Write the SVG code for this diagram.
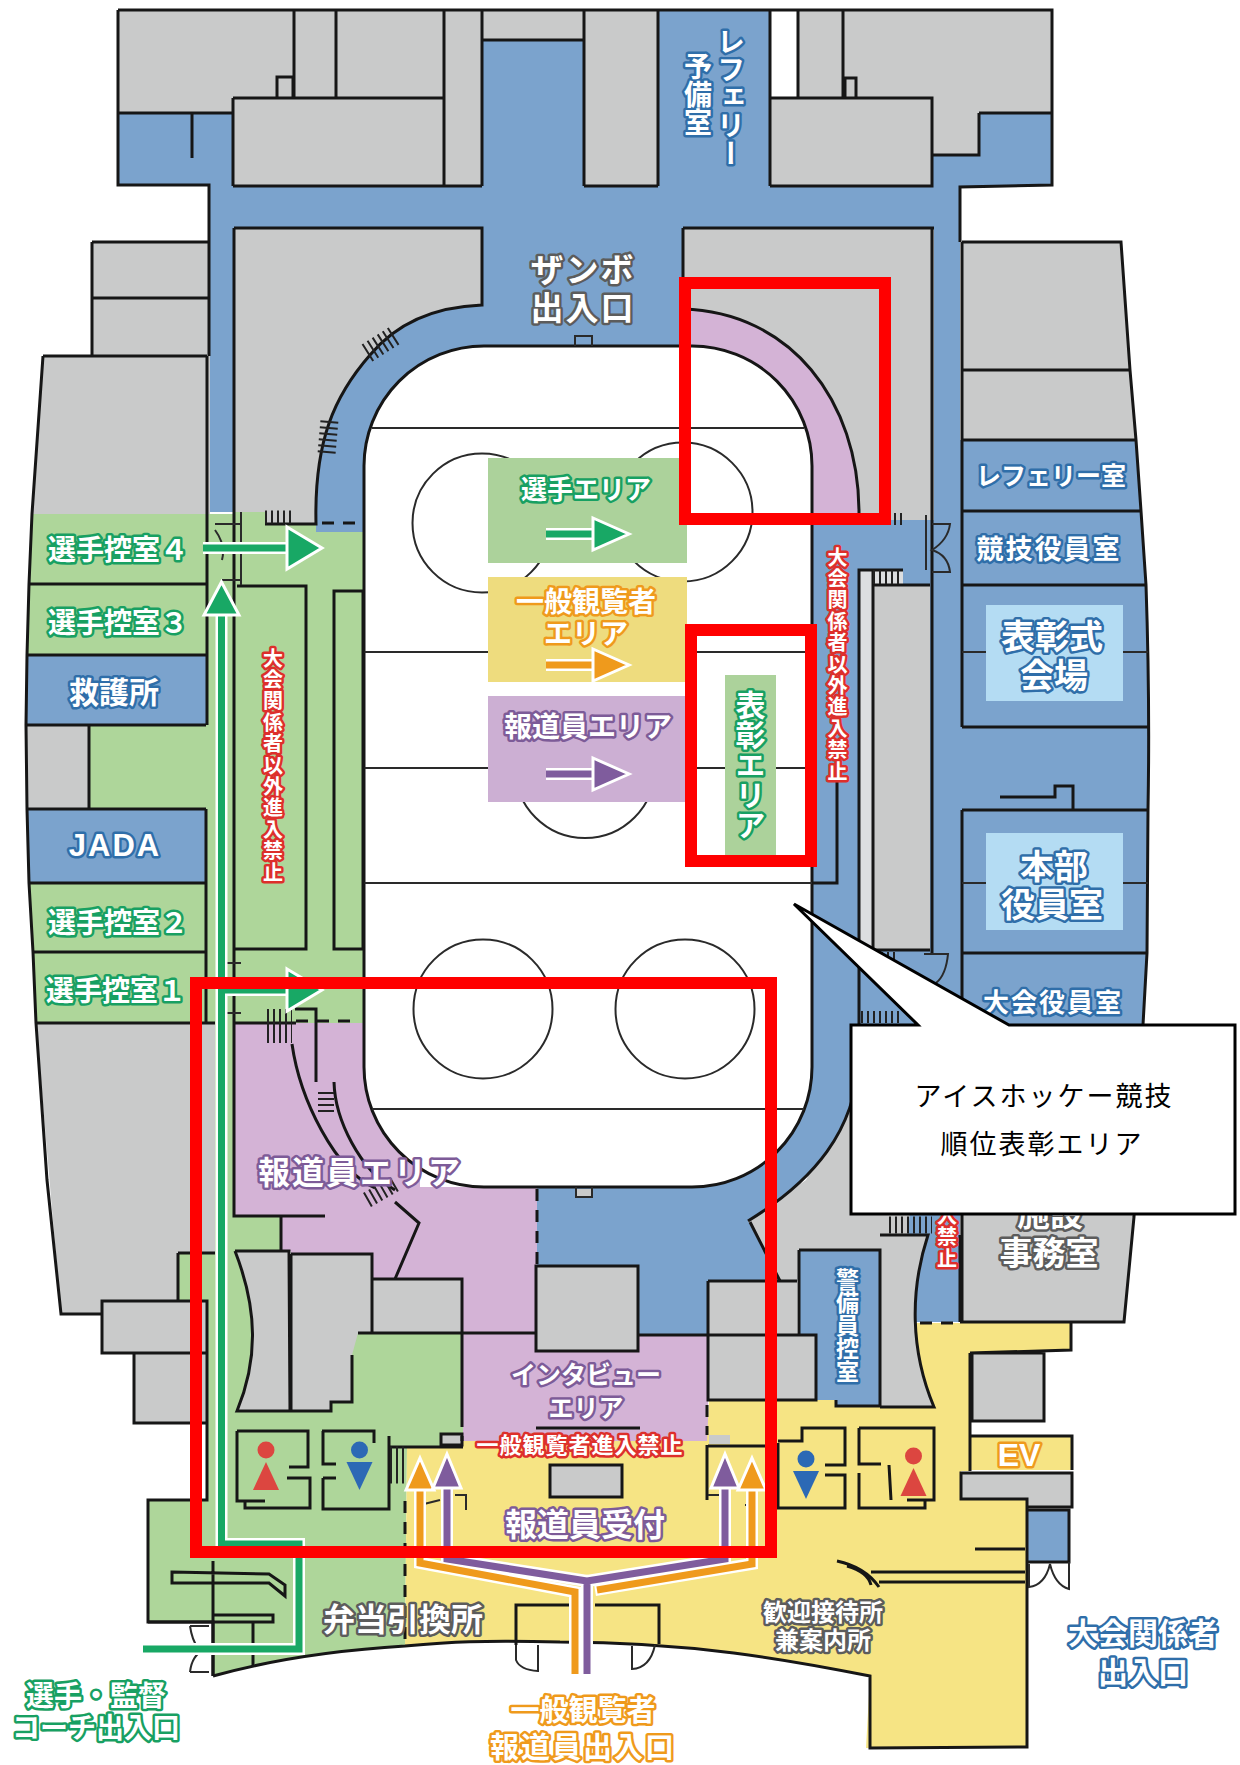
<svg xmlns="http://www.w3.org/2000/svg" width="1240" height="1765" viewBox="0 0 1240 1765">
<style>
.gy{fill:#c9caca}.bl{fill:#7ba3cd}.gn{fill:#aed69a}.pu{fill:#d4b3d6}.ye{fill:#f6e484}.lb{fill:#b4dcf3}
.w{fill:none;stroke:#161616;stroke-width:3;stroke-linejoin:miter}
.t{fill:none;stroke:#2a2a2a;stroke-width:2}
.d{fill:none;stroke:#161616;stroke-width:3;stroke-dasharray:12 9}
.s{fill:none;stroke:#222;stroke-dasharray:2 4}
.l{fill:#fff;font-family:"Noto Sans CJK JP","Noto Sans",sans-serif;font-weight:700;text-anchor:middle;dominant-baseline:central;paint-order:stroke;stroke-width:5;stroke-linejoin:round}
.v{writing-mode:vertical-rl;text-anchor:start;dominant-baseline:central}
.cg{stroke:#18a062}.cb{stroke:#2f6ea9}.cd{stroke:#5c5c5c}.cp{stroke:#7d5b98}.co{stroke:#ef9a1c}.cr{stroke:#dd2f2b}
.red{fill:none;stroke:#ff0000;stroke-width:12}
.cap{fill:#000;font-family:"Noto Sans CJK JP","Noto Sans",sans-serif;font-size:27px;text-anchor:middle;dominant-baseline:central;letter-spacing:2px}
</style>
<defs>
<g id="fem"><circle cx="0" cy="-27" r="8.5" fill="#dc4640"/><path d="M0,-15 L13,13 H-13Z" fill="#dc4640"/></g>
<g id="mal"><circle cx="0" cy="-27" r="8.5" fill="#2c69b5"/><path d="M-13,-15 H13 L0,13Z" fill="#2c69b5"/></g>
</defs>
<rect width="1240" height="1765" fill="#fff"/>

<g id="fills">
<path class="gy" d="M118,10H482V186H233V113H118Z"/>
<path class="gy" d="M482,10H584V40H482Z"/>
<path class="gy" d="M584,10H658V186H584Z"/>
<path class="gy" d="M770,98H798V10H1052V113H979V155H932V186H770Z"/>
<path class="bl" d="M118,113H233V186H482V40H584V186H932V155H979V113H1052V185L960,187V1026H812V512H210V185H118Z"/>
<path class="bl" d="M658,10H770V186H658Z"/>
<path class="gy" d="M92,242H209V356H92Z"/>
<path class="gy" d="M43,356H210V514H32Z"/>
<path class="gy" d="M234,228H482V305C430,307 395,325 370,355C335,395 314,440 316,524H234Z"/>
<path class="gy" d="M683,228H934V520H859C859,400 790,312 683,309Z"/>
<path class="pu" d="M683,309C790,312 859,400 859,520H683Z"/>
<path class="gy" d="M962,242H1121L1130,370L1136,440H962Z"/>
<path class="bl" d="M960,440H1136L1141,511L1146,585Q1150,700 1148,810L1147,953L1143,1025L1139,1110H960Z"/>
<path class="gn" d="M32,514H234V1023H36L33,952L29,883L27,809L26,725L27,655L29,584Z"/>
<path class="bl" d="M27,655H206V725H26Z"/>
<path class="gy" d="M27,725H89V809H27Z"/>
<path class="bl" d="M27,809H206V883H29Z"/>
<path class="gn" d="M234,512H265V524H316V532H364V1023H234Z"/>
<path class="bl" d="M316,500H364V532H316Z"/>
<path class="gy" d="M36,1023H215V1253H178V1301H102V1314H61Z"/>
<path class="gn" d="M215,1023H234V1216H281V1333H463V1447H407L405,1646C340,1650 270,1660 213,1676V1622H148V1500H207V1301H178V1253H215Z"/>
<path class="pu" d="M234,1023H420V1187H537V1351H638V1335H708V1441H463V1333H462V1279H372V1254H291V1251H281V1216H234Z"/>
<path class="gy" d="M850,1100H960V1235H880V1250H799V1281H780L748,1221L806,1180Z"/>
<path class="bl" d="M700,1000H859V1060C855,1130 815,1180 748,1221L780,1281H708V1335H537V1100H700Z"/>
<path class="bl" d="M920,1100H960V1322H900Z"/>
<path class="gy" d="M960,1100H1139L1134,1217L1124,1322H960Z"/>
<path class="bl" d="M799,1250H880V1406H836V1400H799Z"/>
<path class="ye" d="M709,1400H836V1407H934C915,1380 912,1350 916,1323H1071V1350L970,1353V1471H961V1499H1027V1747L866,1748L870,1676C790,1660 690,1642 560,1642C480,1640 450,1642 405,1646L407,1447H463V1441H707Z"/>
<path class="gy" d="M880,1235H928C910,1290 910,1350 934,1407H880Z"/>
<path class="gy" d="M536,1266H638V1351H536Z"/>
<path class="gy" d="M708,1281H797V1335H708Z"/>
<path class="gy" d="M708,1335H816V1400H708Z"/>
<path class="gy" d="M235,1251H289L290,1410H237C255,1360 258,1310 235,1251Z"/>
<path class="gy" d="M291,1254H372V1333H358L352,1355V1402H331V1411H290Z"/>
<path class="gy" d="M372,1279H462V1333H372Z"/>
<path class="gy" d="M102,1301H207V1353H102Z"/>
<path class="gy" d="M134,1353H207V1423H134Z"/>
<path class="gy" d="M972,1353H1044V1421H972Z"/>
<path class="ye" d="M970,1436H1072V1470H970Z"/>
<path class="gy" d="M961,1473H1072V1507H1027V1499H961Z"/>
<path class="bl" d="M1027,1510H1069V1562H1027Z"/>
<path class="gy" d="M550,1465H622V1497H550Z"/>
<path class="gy" d="M441,1434H462V1445H441Z"/>
<path class="gy" d="M709,1435H730V1444H709Z"/>
<path fill="#dcdee0" d="M860,570H903V585H873V950H860Z"/>
<path class="gy" d="M873,585H930V950H873Z"/>
<path class="bl" d="M575,336H592V346H575Z"/>
<path class="gy" d="M576,1189H592V1197H576Z"/>
</g>

<g id="rink">
<rect x="364" y="346" width="448" height="841" rx="120" ry="120" fill="#fff" stroke="#161616" stroke-width="3"/>
<g class="t">
<path d="M372,428H804M364,652H812M364,768H812M364,883H812M372,1109H804"/>
<circle cx="482" cy="523" r="69.5"/><circle cx="683" cy="512" r="69.5"/><circle cx="585" cy="768" r="70"/>
<circle cx="483" cy="1009" r="69.5"/><circle cx="685" cy="1009" r="69.5"/>
</g>
<path class="t" d="M575,346V336H592V346M576,1187V1197H592V1187"/>
</g>

<g id="walls">
<path class="w" d="M118,10H1052V185L960,187V242M118,10V185H209V242M92,242H209V356M92,242V356M92,298H209M43,356H207M43,356L32,514M207,356V725M206,809V1023"/>
<path class="w" d="M979,113H1052M979,113V155H932M118,113H233M192,113V158M233,98V186M233,98H444M277,98V77H293V98M294,10V98M336,10V98M444,10V186M482,10V186M233,186H482M482,40H584M584,10V186M658,10V186M770,10V186M798,10V98M843,10V98M845,98V78H856V98M770,98H932V186H770M658,186H584M932,228V954"/>
<path class="w" d="M234,228H482V305C430,307 395,325 370,355C335,395 314,440 316,524H265M234,228V1216H325M683,228H934M683,228V290"/>
<path class="w" d="M683,309C790,312 859,400 859,513"/>
<path class="w" d="M962,242H1121L1130,370L1136,440L1141,511L1146,585Q1150,700 1148,810L1147,953L1143,1025L1134,1217L1124,1322H960M962,242V727M962,810V1322M962,370H1130M962,440H1136M962,511H1141M962,585H1146M962,727H1148M962,810H1148M962,953H1147"/>
<path class="w" d="M1000,797H1055V786H1073V810"/>
<path class="t" d="M962,652H986M1123,652H1148M962,883H986M1123,883H1148"/>
<path class="w" d="M32,514L29,584L27,655L26,725L27,809L29,883L33,952L36,1023L47,1180L61,1314H102M29,584H206M27,655H206M26,725H206M89,725V809M27,809H206M29,883H206M33,952H206M36,1023H215M234,1023H296"/>
<path class="w" d="M237,586H306V949H234M334,591V949H363V591Z"/>
<path class="d" d="M322,523H360M296,1021H356"/>
<path class="w" d="M295,1009H316V1082M292,1044C300,1100 335,1170 375,1188M334,1082C335,1120 360,1170 395,1190"/>
<path class="w" d="M395,1202L419,1223L395,1279M281,1216V1250"/>
<path class="w" d="M235,1251H289L290,1411H237C258,1360 258,1310 235,1251M291,1254H372V1333M358,1333H536M352,1355V1402H331V1411H290M291,1254V1410M372,1279H462V1333M462,1333V1415"/>
<path class="d" d="M537,1189V1266M462,1415V1441M405,1501V1646M707,1405V1435M920,1323H958"/>
<path class="w" d="M536,1266H638V1351H536ZM638,1335H708V1400H816V1335H708M708,1281H797M708,1281V1335M799,1250V1335M799,1250H880V1406H836V1400M880,1235H928C910,1290 910,1350 934,1407H880M960,1235V1322"/>
<path class="w" d="M750,1222L780,1281M748,1221C815,1180 855,1130 859,1060V570H903M873,570V950H930M873,585H930M837,780V883H812"/>
<path class="w" d="M178,1253H215M178,1253V1301M102,1301H207V1353H102ZM134,1353H207V1423H134ZM207,1301V1500H148V1622H213V1676"/>
<path class="w" d="M172,1572L269,1574L285,1585V1596L269,1583H172ZM213,1561V1676M213,1615H273V1622H148M253,1622V1667"/>
<path class="w" d="M213,1676C270,1660 340,1650 405,1646C450,1642 480,1640 560,1642C690,1642 790,1660 870,1676V1748L1027,1747V1499H961V1473H1072V1507H1027M970,1353V1471M970,1436H1072V1470M972,1353H1044V1421H972ZM970,1353L1071,1350V1323"/>
<path class="w" d="M1027,1510H1069V1562H1027M975,1549H1025M871,1572H1025M879,1582H1025M837,1561Q865,1567 879,1587M847,1566Q868,1572 871,1585"/>
<path class="t" d="M1029,1564V1587Q1045,1585 1050,1564Q1055,1585 1069,1589V1562M932,524H950Q948,540 932,550Q948,555 950,572H932M926,515V570M924,954H948Q946,975 936,983M215,524H241M241,512V585M215,530Q226,545 222,560M222,580H241M227,963H241M227,1013H241M190,1626Q192,1640 198,1648M190,1672Q192,1655 204,1650M190,1672H209M190,1626H209M516,1645V1660Q520,1670 538,1671V1645M632,1646V1669Q650,1668 655,1645"/>
<path class="w" d="M516,1645V1605H569M595,1605H659V1644"/>
<path class="w" d="M237,1431H308V1467H289M287,1478H310V1508H245V1500M237,1431V1501H265"/>
<path class="w" d="M322,1431H374V1443M323,1431V1464H336M323,1478H336M323,1478V1509H389V1436M389,1447H463M441,1434H462V1445H441Z"/>
<path class="w" d="M707,1445V1500M708,1446H778M778,1443V1508H845V1475H825M825,1465H845V1428H802V1441H778"/>
<path class="w" d="M859,1428H934V1500H907M859,1428V1464H881M859,1473V1508H925V1501M889,1465L891,1500"/>
<rect class="w" x="550" y="1465" width="72" height="32"/>
<path class="w" d="M536,1428H640"/>
<path class="t" d="M420,1505L440,1500M455,1495H466V1510M708,1495H725M745,1505H757"/>
</g>

<g id="stairs">
<path class="s" stroke-width="20" d="M367,353L397,334"/>
<path class="s" stroke-width="18" transform="translate(328 437) rotate(-85)" d="M-16,0H16"/>
<path class="s" stroke-width="13" d="M265,517H295"/>
<path class="s" stroke-width="12" d="M870,519H903"/>
<path class="s" stroke-width="14" d="M873,577H903"/>
<path class="s" stroke-width="10" d="M881,957H897"/>
<path class="s" stroke-width="12" d="M861,1017H903"/>
<path class="s" stroke-width="17" d="M889,1225H932"/>
<path class="s" stroke-width="34" d="M267,1026H292"/>
<path class="s" stroke-width="16" d="M326,1092V1115"/>
<path class="s" stroke-width="16" d="M367,1200L395,1184"/>
<path class="s" stroke-width="37" d="M390,1465H407"/>
<path class="s" stroke-width="12" d="M766,1470H778"/>
</g>

<g id="legend">
<rect x="488" y="458" width="199" height="105" fill="#acd29b"/>
<rect x="488" y="577" width="199" height="105" fill="#eedc7e"/>
<rect x="488" y="696" width="199" height="106" fill="#ccafd3"/>
<rect x="725" y="675" width="51" height="182" fill="#acd29b"/>
</g>

<g id="connectors">
<g fill="none" stroke="#fff" stroke-width="12" stroke-linejoin="miter">
<path d="M143,1649H299V1544H221.5V600"/>
<path d="M203,548H290M222,990H290"/>
<path d="M546,534H595M546,665H595M546,774H595"/>
<path d="M420,1490V1563L575,1592V1674M752,1490V1564L595,1590"/>
<path d="M447,1488V1559L587,1581V1674M725,1488V1559L587,1581"/>
</g>
<g fill="none" stroke="#18a865" stroke-width="7">
<path d="M143,1649H299V1544H221.5V600"/>
<path d="M203,548H290M222,990H290M546,534H595"/>
</g>
<g fill="none" stroke="#ef9a1c" stroke-width="7"><path d="M546,665H595M420,1490V1563L575,1592V1674M752,1490V1564L597,1590"/></g>
<g fill="none" stroke="#7f5c9d" stroke-width="7"><path d="M546,774H595M447,1488V1559L587,1581V1674M725,1488V1559L587,1581"/></g>
<g stroke="#fff" stroke-width="3" stroke-linejoin="miter">
<path fill="#18a865" d="M287,527L322,548L287,569Z"/>
<path fill="#18a865" d="M287,969L322,990L287,1011Z"/>
<path fill="#18a865" d="M221.5,582L239,615H204Z"/>
<path fill="#18a865" d="M593,518L629,534L593,550Z"/>
<path fill="#ef9a1c" d="M593,649L629,665L593,681Z"/>
<path fill="#7f5c9d" d="M593,758L629,774L593,790Z"/>
<path fill="#ef9a1c" d="M420,1458L434,1490H406Z"/>
<path fill="#7f5c9d" d="M447,1454L461,1488H433Z"/>
<path fill="#7f5c9d" d="M725,1454L739,1488H711Z"/>
<path fill="#ef9a1c" d="M752,1458L766,1490H738Z"/>
</g>
</g>

<g id="icons">
<use href="#fem" x="266" y="1477"/><use href="#mal" x="359.5" y="1477"/>
<use href="#mal" x="806" y="1486"/><use href="#fem" x="913.5" y="1483"/>
</g>

<g id="labels">
<text class="l cb v" x="731" y="27" font-size="28">レフェリー</text>
<text class="l cb v" x="698" y="52" font-size="28">予備室</text>
<text class="l cd" x="583" y="268" font-size="33" letter-spacing="2">ザンボ</text>
<text class="l cd" x="583" y="306" font-size="33" letter-spacing="2">出入口</text>
<text class="l cb" x="1051" y="474" font-size="25">レフェリー室</text>
<text class="l cb" x="1049" y="547" font-size="27" letter-spacing="2">競技役員室</text>
<rect class="lb" x="986" y="605" width="137" height="96"/>
<rect class="lb" x="986" y="833" width="137" height="97"/>
<text class="l cb" x="1052" y="634" font-size="34">表彰式</text>
<text class="l cb" x="1054" y="673" font-size="34">会場</text>
<text class="l cb" x="1054" y="864" font-size="34">本部</text>
<text class="l cb" x="1052" y="902" font-size="34">役員室</text>
<text class="l cb" x="1053" y="1000" font-size="26" letter-spacing="2">大会役員室</text>
<text class="l cg" x="118" y="548" font-size="28">選手控室４</text>
<text class="l cg" x="118" y="621" font-size="28">選手控室３</text>
<text class="l cb" x="114" y="690" font-size="30">救護所</text>
<text class="l cb" x="115" y="845" font-size="31" letter-spacing="2" style="font-family:'Liberation Sans',sans-serif">JADA</text>
<text class="l cg" x="118" y="921" font-size="28">選手控室２</text>
<text class="l cg" x="116" y="989" font-size="28">選手控室１</text>
<text class="l cr v" x="273" y="648" font-size="20" letter-spacing="1.4">大会関係者以外進入禁止</text>
<text class="l cr v" x="837.5" y="547" font-size="20" letter-spacing="1.4">大会関係者以外進入禁止</text>
<text class="l cr v" x="947" y="1034" font-size="20" letter-spacing="1.4">大会関係者以外進入禁止</text>
<text class="l cg" x="586" y="487" font-size="26">選手エリア</text>
<text class="l co" x="586" y="600" font-size="28">一般観覧者</text>
<text class="l co" x="586" y="632" font-size="28">エリア</text>
<text class="l cp" x="588" y="725" font-size="28">報道員エリア</text>
<text class="l cg v" x="750.5" y="690" font-size="30">表彰エリア</text>
<text class="l cp" x="360" y="1170" font-size="32" letter-spacing="2">報道員エリア</text>
<text class="l cp" x="586" y="1373" font-size="25">インタビュー</text>
<text class="l cp" x="586" y="1406" font-size="25">エリア</text>
<text class="l cr" x="580" y="1443" font-size="22" letter-spacing="1">一般観覧者進入禁止</text>
<text class="l cp" x="585" y="1522" font-size="32">報道員受付</text>
<text class="l cd" x="403" y="1617" font-size="32">弁当引換所</text>
<text class="l cd" x="823" y="1610" font-size="24">歓迎接待所</text>
<text class="l cd" x="823" y="1638" font-size="24">兼案内所</text>
<text class="l cb" x="1143" y="1631" font-size="30">大会関係者</text>
<text class="l cb" x="1143" y="1670" font-size="30">出入口</text>
<text class="l cg" x="96" y="1694" font-size="28">選手・監督</text>
<text class="l cg" x="96" y="1726" font-size="28">コーチ出入口</text>
<text class="l co" x="583" y="1708" font-size="29">一般観覧者</text>
<text class="l co" x="583" y="1745" font-size="29" letter-spacing="2">報道員出入口</text>
<text class="l co" x="1019" y="1455" font-size="32" style="font-family:'Liberation Sans',sans-serif">EV</text>
<text class="l cd" x="1050" y="1212" font-size="33">施設</text>
<text class="l cd" x="1049" y="1251" font-size="33">事務室</text>
<text class="l cb v" x="847.5" y="1268" font-size="23">警備員控室</text>
</g>

<g id="highlights">
<rect class="red" x="685" y="283" width="200" height="236"/>
<rect class="red" x="691" y="630" width="120" height="231"/>
<rect class="red" x="196" y="983" width="575" height="569"/>
</g>

<g id="callout">
<path d="M851,1025H918L794,904L1009,1025H1235V1214H851Z" fill="#fff" stroke="#000" stroke-width="3" stroke-linejoin="miter"/>
<text class="cap" x="1044" y="1094">アイスホッケー競技</text>
<text class="cap" x="1042" y="1142">順位表彰エリア</text>
</g>
</svg>
